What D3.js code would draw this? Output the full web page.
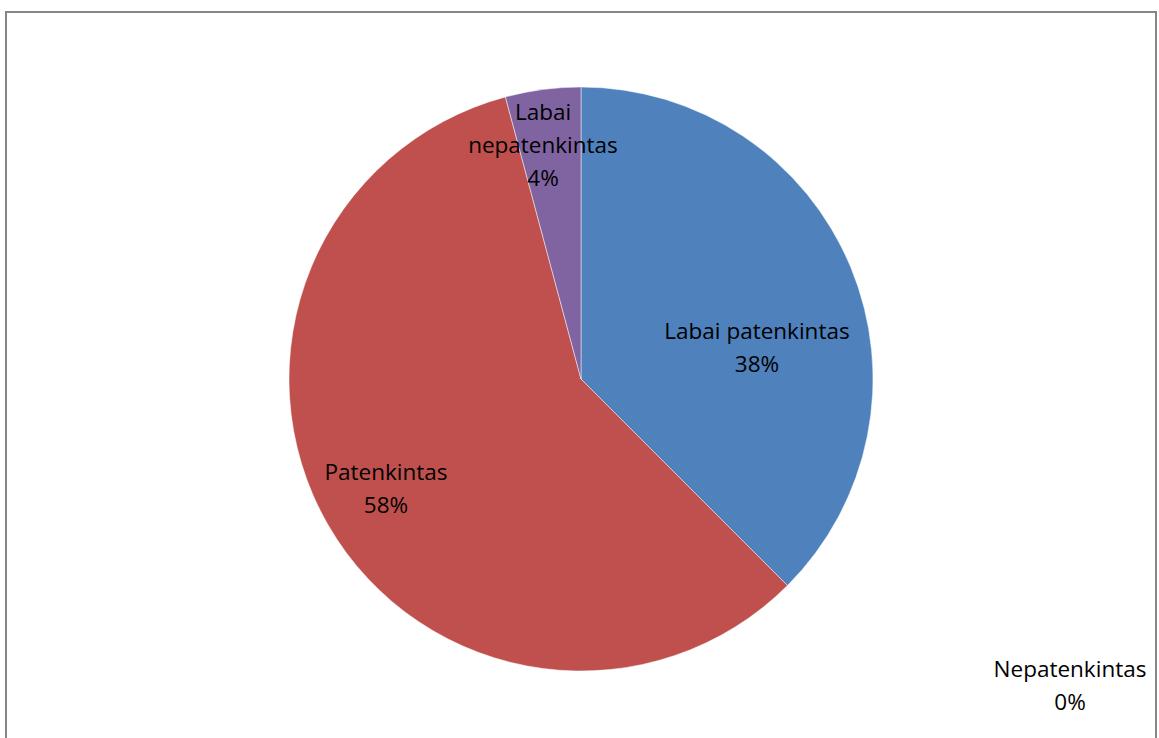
<!DOCTYPE html>
<html>
<head>
<meta charset="utf-8">
<script src="https://cdn.jsdelivr.net/npm/d3@7"></script>
<style>
  html, body { margin: 0; padding: 0; background: #fff; }
  svg { display: block; }
</style>
</head>
<body>
<script>
// Data
const categories = ["Labai patenkintas", "Patenkintas", "Nepatenkintas", "Labai nepatenkintas"];
const values = [18, 28, 0, 2];
const percentLabels = ["38%", "58%", "0%", "4%"];
const colors = ["#4F81BD", "#C0504D", "#9BBB59", "#8064A2"];

// Layout
const W = 1159, H = 738;
const cx = 581, cy = 379, R = 292;
// label anchor (center of first line) positions, [x, baseline]
const labelLayout = [
  { x: 757, y: 339, lines: ["Labai patenkintas"] },
  { x: 386, y: 480, lines: ["Patenkintas"] },
  { x: 1070, y: 677, lines: ["Nepatenkintas"] },
  { x: 543, y: 120, lines: ["Labai", "nepatenkintas"] }
];
const lineGap = 33;

const svg = d3.select("body").append("svg").attr("width", W).attr("height", H);

svg.append("rect")
  .attr("x", 6).attr("y", 12)
  .attr("width", 1150).attr("height", 800)
  .attr("fill", "#fff")
  .attr("stroke", "#868686")
  .attr("stroke-width", 2);

const pie = d3.pie().sort(null).value(d => d.v).startAngle(0).endAngle(2 * Math.PI);
const arc = d3.arc().innerRadius(0).outerRadius(R);

const data = categories.map((c, i) => ({ c, v: values[i], color: colors[i], pct: percentLabels[i] }));

const g = svg.append("g").attr("transform", `translate(${cx},${cy})`);
g.selectAll("path")
  .data(pie(data).filter(d => d.data.v > 0))
  .join("path")
  .attr("d", arc)
  .attr("fill", d => d.data.color)
  .attr("stroke", "#ffffff")
  .attr("stroke-opacity", 0.6)
  .attr("stroke-width", 0.8);

const fontFamily = "'Open Sans', 'Noto Sans', sans-serif";
data.forEach((d, i) => {
  const L = labelLayout[i];
  const lines = L.lines.concat([d.pct]);
  const t = svg.append("text")
    .attr("text-anchor", "middle")
    .attr("font-family", fontFamily)
    .attr("font-size", 22.5)
    .attr("fill", "#000");
  lines.forEach((ln, k) => {
    t.append("tspan").attr("x", L.x).attr("y", L.y + k * lineGap).text(ln);
  });
});
</script>
</body>
</html>
